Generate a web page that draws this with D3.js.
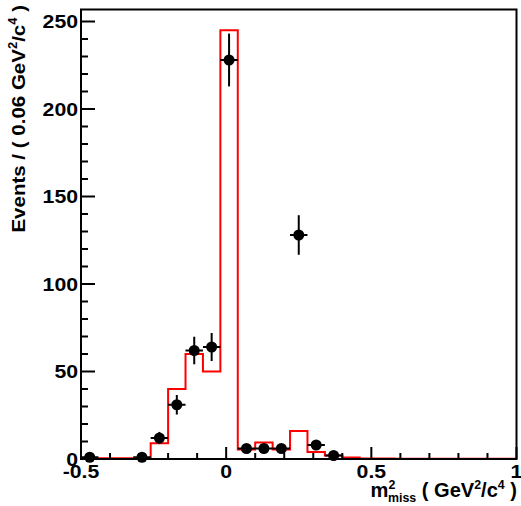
<!DOCTYPE html>
<html><head><meta charset="utf-8">
<script src="https://cdn.jsdelivr.net/npm/d3@7"></script>
<style>body{margin:0;background:#fff}svg{display:block}</style>
</head><body>
<script>
// ---- data ----
const binStart = -0.5;
const binWidth = 0.06;
const mcValues = [0.5,0.5,0.5,0.5,9,40,60,50,245,5.5,9.5,5.5,16,4,2,0.8,0.3,0.3,0.2,0.1,0.1,0.1,0.1,0.1,0.1];
const dataValues = [1,0,0,1,12,31,62,64,228,6,6,6,128,8,2,0,0,0,0,0,0,0,0,0,0];
const xTicks = [-0.5, 0, 0.5, 1];
const xTickLabels = ["-0.5", "0", "0.5", "1"];
const yTicks = [0, 50, 100, 150, 200, 250];

const W = 521, H = 506;
const svg = d3.select("body").append("svg").attr("width", W).attr("height", H);
const font = "'Liberation Sans', Arial, sans-serif";
const x = d3.scaleLinear().domain([-0.5, 1]).range([81, 516.5]);
const y = d3.scaleLinear().domain([0, 250]).range([459, 21.5]);
const yTop = 9.5;

function stxt(px, py, anchor, rot, sx, fs) {
  return svg.append("g").attr("transform", `translate(${px},${py}) rotate(${rot}) scale(${sx},1)`)
    .append("text").attr("x", 0).attr("y", 0).attr("text-anchor", anchor)
    .attr("font-family", font).attr("font-weight", "bold").attr("font-size", fs);
}

// histogram (red)
const pts = [];
mcValues.forEach((v, i) => {
  const a = binStart + i * binWidth, b = a + binWidth;
  pts.push([a, v], [b, v]);
});
svg.append("path")
  .attr("d", d3.line().x(d => x(d[0])).y(d => y(d[1]))(pts))
  .attr("fill", "none").attr("stroke", "#ff0000").attr("stroke-width", 2);

// data points
const g = svg.append("g");
dataValues.forEach((v, i) => {
  if (v <= 0) return;
  const c = binStart + (i + 0.5) * binWidth;
  const e = Math.sqrt(v);
  g.append("line").attr("x1", x(c)).attr("x2", x(c)).attr("y1", y(v - e)).attr("y2", y(v + e))
    .attr("stroke", "#000").attr("stroke-width", 2);
  g.append("line").attr("x1", x(c - binWidth / 2)).attr("x2", x(c + binWidth / 2)).attr("y1", y(v)).attr("y2", y(v))
    .attr("stroke", "#000").attr("stroke-width", 2);
  g.append("circle").attr("cx", x(c)).attr("cy", y(v)).attr("r", 5.5).attr("fill", "#000");
});

// frame
svg.append("rect").attr("x", 81).attr("y", yTop).attr("width", 516.5 - 81).attr("height", 459 - yTop)
  .attr("fill", "none").attr("stroke", "#000").attr("stroke-width", 2);

// y ticks
const yMinor = d3.range(0, 251, 10);
svg.append("g").selectAll("line").data(yMinor).join("line")
  .attr("x1", 81).attr("x2", d => 81 + (d % 50 === 0 ? 14 : 7))
  .attr("y1", d => y(d)).attr("y2", d => y(d))
  .attr("stroke", "#000").attr("stroke-width", 2);
yTicks.forEach(d => stxt(78, y(d) + 6.5, "end", 0, 1.18, 18).text(d));

// x ticks
const xMinor = d3.range(-5, 11).map(d => d / 10);
svg.append("g").selectAll("line").data(xMinor).join("line")
  .attr("x1", d => x(d)).attr("x2", d => x(d))
  .attr("y1", 459).attr("y2", d => 459 - (Math.abs(d * 2 - Math.round(d * 2)) < 1e-6 ? 12 : 6))
  .attr("stroke", "#000").attr("stroke-width", 2);
xTicks.forEach((d, i) => stxt(x(d), 478, "middle", 0, 1.18, 18).text(xTickLabels[i]));

// x title
const xt = stxt(517, 497, "end", 0, 1.03, 19.5);
xt.append("tspan").text("m");
xt.append("tspan").attr("font-size", 12).attr("dy", -8).text("2");
xt.append("tspan").attr("font-size", 12).attr("dx", -7).attr("dy", 13).text("miss");
xt.append("tspan").attr("dy", -5).text(" ( GeV");
xt.append("tspan").attr("font-size", 12).attr("dy", -8).text("2");
xt.append("tspan").attr("dy", 8).text("/c");
xt.append("tspan").attr("font-size", 12).attr("dy", -8).text("4");
xt.append("tspan").attr("dy", 8).text(" )");

// y title
const yt = stxt(25, 5, "end", -90, 1.08, 19);
yt.append("tspan").text("Events / ( 0.06 GeV");
yt.append("tspan").attr("font-size", 12).attr("dy", -8).text("2");
yt.append("tspan").attr("dy", 8).text("/c");
yt.append("tspan").attr("font-size", 12).attr("dy", -8).text("4");
yt.append("tspan").attr("dy", 8).text(" )");
</script>
</body></html>
